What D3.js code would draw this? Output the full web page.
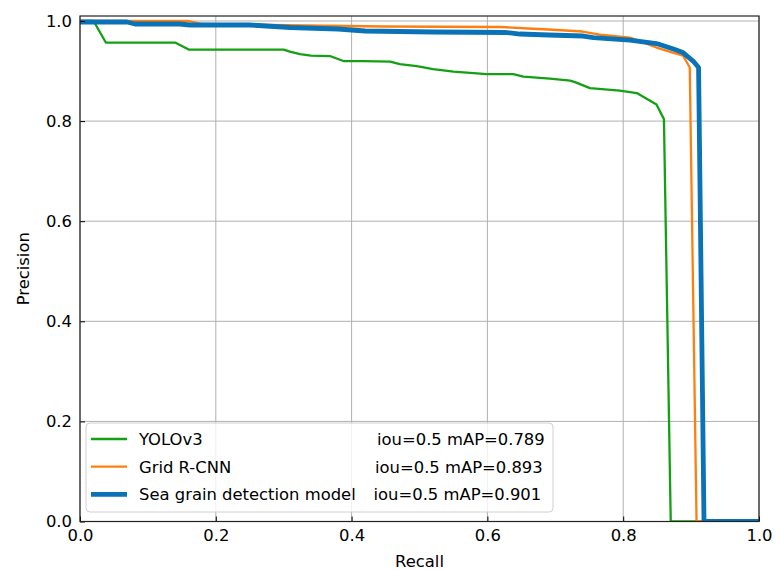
<!DOCTYPE html>
<html><head><meta charset="utf-8">
<script src="https://cdn.jsdelivr.net/npm/d3@7"></script>
<style>body{margin:0;background:#fff;} text{font-family:"DejaVu Sans",sans-serif;}</style>
</head><body><svg id="c" width="775" height="570"></svg>
<script>
const xTicks = [0, 0.2, 0.4, 0.6, 0.8, 1.0];
const yTicks = [0, 0.2, 0.4, 0.6, 0.8, 1.0];
const seriesNames = ["YOLOv3", "Grid R-CNN", "Sea grain detection model"];
const seriesMAP = ["iou=0.5 mAP=0.789", "iou=0.5 mAP=0.893", "iou=0.5 mAP=0.901"];
const seriesColors = ["#13a013", "#ff7f0e", "#0a72b6"];
const seriesWidths = [2.3, 2.3, 4.8];

const yoloRecall = [0, 0.02, 0.038, 0.14, 0.16, 0.30, 0.309, 0.324, 0.34, 0.368, 0.388, 0.417, 0.457, 0.471, 0.496, 0.520, 0.550, 0.599, 0.638, 0.653, 0.692, 0.722, 0.731, 0.751, 0.795, 0.820, 0.849, 0.860, 0.870, 1.0];
const yoloPrecision = [1.0, 1.0, 0.957, 0.957, 0.943, 0.943, 0.939, 0.934, 0.931, 0.930, 0.920, 0.920, 0.919, 0.914, 0.910, 0.904, 0.899, 0.894, 0.894, 0.889, 0.885, 0.881, 0.877, 0.866, 0.861, 0.856, 0.833, 0.804, 0, 0];

const gridRecall = [0, 0.16, 0.18, 0.33, 0.45, 0.62, 0.66, 0.69, 0.74, 0.77, 0.81, 0.849, 0.873, 0.888, 0.898, 0.908, 1.0];
const gridPrecision = [1.0, 1.0, 0.994, 0.991, 0.989, 0.988, 0.985, 0.983, 0.979, 0.972, 0.967, 0.947, 0.937, 0.931, 0.907, 0, 0];

const seaRecall = [0, 0.069, 0.081, 0.147, 0.162, 0.25, 0.31, 0.38, 0.42, 0.52, 0.628, 0.648, 0.69, 0.741, 0.756, 0.81, 0.849, 0.874, 0.888, 0.903, 0.911, 0.919, 1.0];
const seaPrecision = [0.998, 0.998, 0.994, 0.994, 0.992, 0.992, 0.987, 0.984, 0.980, 0.978, 0.977, 0.974, 0.972, 0.970, 0.967, 0.962, 0.955, 0.944, 0.937, 0.920, 0.907, 0, 0];

const recalls = [yoloRecall, gridRecall, seaRecall];
const precisions = [yoloPrecision, gridPrecision, seaPrecision];

const FS = "16.4px";
const L = 80, R = 759, T = 16, B = 521.5;
const svg = d3.select("#c");
const x = d3.scaleLinear().domain([0, 1]).range([L, R]);
const y = d3.scaleLinear().domain([0, 1.01]).range([B, T]);

svg.append("defs").append("clipPath").attr("id", "clip")
  .append("rect").attr("x", L).attr("y", T).attr("width", R - L).attr("height", B - T);

// grid
const g = svg.append("g");
g.selectAll(".gx").data(xTicks).enter().append("line")
  .attr("x1", d => x(d)).attr("x2", d => x(d)).attr("y1", T).attr("y2", B)
  .attr("stroke", "#b0b0b0").attr("stroke-width", 1);
g.selectAll(".gy").data(yTicks).enter().append("line")
  .attr("y1", d => y(d)).attr("y2", d => y(d)).attr("x1", L).attr("x2", R)
  .attr("stroke", "#b0b0b0").attr("stroke-width", 1);

// lines
const line = d3.line();
const lg = svg.append("g").attr("clip-path", "url(#clip)");
for (let i = 0; i < 3; i++) {
  const pts = recalls[i].map((r, j) => [x(r), y(precisions[i][j])]);
  lg.append("path").attr("d", line(pts)).attr("fill", "none")
    .attr("stroke", seriesColors[i]).attr("stroke-width", seriesWidths[i])
    .attr("stroke-linejoin", "round");
}

// axes (inward ticks)
const xAxis = d3.axisBottom(x).tickValues(xTicks).tickFormat(d3.format(".1f")).tickSizeInner(-5).tickSizeOuter(0).tickPadding(7.5);
const yAxis = d3.axisLeft(y).tickValues(yTicks).tickFormat(d3.format(".1f")).tickSizeInner(-5).tickSizeOuter(0).tickPadding(8);
const xa = svg.append("g").attr("transform", `translate(0,${B})`).call(xAxis);
const ya = svg.append("g").attr("transform", `translate(${L},0)`).call(yAxis);
[xa, ya].forEach(a => {
  a.select(".domain").remove();
  a.selectAll("text").attr("font-size", FS).attr("fill", "#000").attr("font-family", "DejaVu Sans");
  a.selectAll("line").attr("stroke", "#000").attr("stroke-width", 1);
});
svg.append("rect").attr("x", L).attr("y", T).attr("width", R - L).attr("height", B - T)
  .attr("fill", "none").attr("stroke", "#222").attr("stroke-width", 1.2);

// axis labels
svg.append("text").attr("x", (L + R) / 2).attr("y", 566.5).attr("text-anchor", "middle")
  .attr("font-size", FS).text("Recall");
svg.append("text").attr("transform", `translate(29,${(T + B) / 2}) rotate(-90)`).attr("text-anchor", "middle")
  .attr("font-size", FS).text("Precision");

// legend
const leg = svg.append("g");
leg.append("rect").attr("x", 86).attr("y", 423).attr("width", 467).attr("height", 89)
  .attr("rx", 4).attr("fill", "#fff").attr("fill-opacity", 0.8).attr("stroke", "#d0d0d0").attr("stroke-width", 1);
const mapX = [377, 375, 373.5];
for (let i = 0; i < 3; i++) {
  const yy = 439 + i * 27.7;
  leg.append("line").attr("x1", 91).attr("x2", 127).attr("y1", yy).attr("y2", yy)
    .attr("stroke", seriesColors[i]).attr("stroke-width", seriesWidths[i]);
  const t = leg.append("text").attr("y", yy + 6).attr("font-size", FS);
  t.append("tspan").attr("x", 139).text(seriesNames[i]);
  t.append("tspan").attr("x", mapX[i]).text(seriesMAP[i]);
}
</script></body></html>
